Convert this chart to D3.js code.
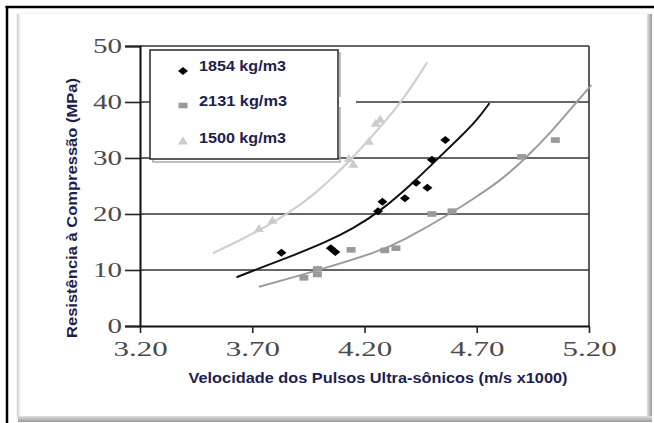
<!DOCTYPE html>
<html><head><meta charset="utf-8">
<script src="https://cdn.jsdelivr.net/npm/d3@7"></script>
<style>html,body{margin:0;padding:0;background:#fff;}svg{display:block;}</style>
</head><body>
<svg id="c" width="654" height="423"></svg>
<script>
// ---- data ----
const xTicks = [3.20, 3.70, 4.20, 4.70, 5.20];
const yTicks = [0, 10, 20, 30, 40, 50];
const seriesNames = ["1854 kg/m3", "2131 kg/m3", "1500 kg/m3"];
const pts1854 = [[3.83,13.1],[4.05,13.9],[4.07,13.2],[4.26,20.5],[4.28,22.2],[4.38,22.8],[4.43,25.6],[4.48,24.7],[4.50,29.7],[4.56,33.2]];
const pts2131 = [[3.93,8.6],[3.99,9.2],[3.99,10.2],[4.14,13.6],[4.29,13.5],[4.34,13.9],[4.50,20.0],[4.59,20.5],[4.90,30.2],[5.05,33.2]];
const pts1500 = [[3.73,17.4],[3.79,18.9],[4.13,29.9],[4.15,28.9],[4.22,33.0],[4.25,36.2],[4.27,36.9]];
const trend1854 = [[3.63,8.7],[3.73,10.3],[3.87,12.4],[4.03,15.0],[4.15,17.4],[4.27,20.5],[4.41,25.3],[4.55,30.8],[4.62,33.5],[4.70,36.7],[4.757,39.8]];
const trend2131 = [[3.73,7.0],[4.00,10.0],[4.27,13.4],[4.36,15.0],[4.59,20.2],[4.71,23.4],[4.80,25.8],[4.92,30.0],[5.04,35.0],[5.16,40.7],[5.21,43.0]];
const trend1500 = [[3.525,13.0],[3.645,15.3],[3.76,17.7],[3.87,20.4],[3.96,23.0],[4.05,26.2],[4.14,29.7],[4.25,34.6],[4.37,40.2],[4.48,47.1]];
const xTitle = "Velocidade dos Pulsos Ultra-sônicos (m/s x1000)";
const yTitle = "Resistência à Compressão (MPa)";

const svg = d3.select("#c");
// ---- frame & panel ----
const defs = svg.append("defs");
const g1 = defs.append("linearGradient").attr("id","shR").attr("x1","0").attr("x2","1");
g1.append("stop").attr("offset","0").attr("stop-color","#e0e0e0");
g1.append("stop").attr("offset","1").attr("stop-color","#9a9a9a");
const g2 = defs.append("linearGradient").attr("id","shB").attr("x1","0").attr("x2","0").attr("y1","0").attr("y2","1");
g2.append("stop").attr("offset","0").attr("stop-color","#e0e0e0");
g2.append("stop").attr("offset","1").attr("stop-color","#9a9a9a");
const g3 = defs.append("linearGradient").attr("id","shL").attr("x1","0").attr("x2","1");
g3.append("stop").attr("offset","0").attr("stop-color","#cfcfcf");
g3.append("stop").attr("offset","1").attr("stop-color","#ffffff");

svg.append("rect").attr("x",17).attr("y",13).attr("width",632).attr("height",405).attr("fill","#fff").attr("stroke","#f0f0f0").attr("stroke-width",1);
svg.append("rect").attr("x",17).attr("y",14).attr("width",4).attr("height",404).attr("fill","url(#shL)");
svg.append("rect").attr("x",647).attr("y",14).attr("width",5).attr("height",408).attr("fill","url(#shR)");
svg.append("rect").attr("x",18).attr("y",416).attr("width",634).attr("height",6).attr("fill","url(#shB)");
svg.append("line").attr("x1",5.5).attr("x2",654).attr("y1",7).attr("y2",7).attr("stroke","#000").attr("stroke-width",2.5);
svg.append("line").attr("x1",7).attr("x2",7).attr("y1",6).attr("y2",423).attr("stroke","#000").attr("stroke-width",2.5);

// ---- scales ----
const x = d3.scaleLinear().domain([3.2, 5.2]).range([140, 589]);
const y = d3.scaleLinear().domain([0, 50]).range([326, 46]);

// gridlines
svg.append("g").selectAll("line").data(yTicks.filter(d=>d>0)).join("line")
  .attr("x1", x(3.2)).attr("x2", x(5.2)).attr("y1", d=>y(d)).attr("y2", d=>y(d))
  .attr("stroke", "#333").attr("stroke-width", 1.6);
// right border
svg.append("line").attr("x1",x(5.2)).attr("x2",x(5.2)).attr("y1",y(50)).attr("y2",y(0)).attr("stroke","#333").attr("stroke-width",1.6);

// axes
function stretch(sel, factor){
  sel.each(function(){ const w=this.getComputedTextLength(); d3.select(this).attr("textLength", w*factor).attr("lengthAdjust","spacingAndGlyphs"); });
}
const yAx = svg.append("g").attr("transform",`translate(${x(3.2)},0)`)
  .call(d3.axisLeft(y).tickValues(yTicks).tickSize(15).tickPadding(3).tickFormat(d3.format("d")));
yAx.select(".domain").attr("stroke","#111").attr("stroke-width",2);
yAx.selectAll(".tick line").attr("stroke","#222").attr("stroke-width",1.6);
yAx.selectAll(".tick text").attr("font-family","'Liberation Serif', 'Times New Roman', serif").attr("font-size",20).attr("fill","#4a4a4a").attr("dy","0.34em").call(stretch,1.45);

const xAx = svg.append("g").attr("transform",`translate(0,${y(0)})`)
  .call(d3.axisBottom(x).tickValues(xTicks).tickSize(7).tickSizeOuter(0).tickPadding(9).tickFormat(d3.format(".2f")));
xAx.select(".domain").attr("stroke","#111").attr("stroke-width",2);
xAx.selectAll(".tick line").attr("stroke","#222").attr("stroke-width",1.6);
xAx.selectAll(".tick text").attr("font-family","'Liberation Serif', 'Times New Roman', serif").attr("font-size",20).attr("fill","#4a4a4a").call(stretch,1.55);

// ---- legend box ----
svg.append("rect").attr("x",153).attr("y",53).attr("width",187).attr("height",109).attr("fill","none").attr("stroke","#aaa").attr("stroke-width",1.5);
svg.append("rect").attr("x",150).attr("y",50).attr("width",188).attr("height",109).attr("fill","#fff").attr("stroke","#333").attr("stroke-width",1.6);
svg.append("rect").attr("x",339).attr("y",97).attr("width",17).attr("height",10).attr("fill","#fff");

// ---- trend lines ----
const line = d3.line().x(d=>x(d[0])).y(d=>y(d[1])).curve(d3.curveBasis);
svg.append("path").datum(trend1500).attr("d",line).attr("fill","none").attr("stroke","#cfcfcf").attr("stroke-width",2.2);
svg.append("path").datum(trend2131).attr("d",line).attr("fill","none").attr("stroke","#9c9c9c").attr("stroke-width",2);
svg.append("path").datum(trend1854).attr("d",line).attr("fill","none").attr("stroke","#111").attr("stroke-width",2);

// ---- markers ----
const diamond = "M0,-4L5,0L0,4L-5,0Z";
const square = "M-4.5,-2.8h9v5.6h-9Z";
const tri = "M0,-4.5L5,3.5L-5,3.5Z";
function marks(data, path, color){
  svg.append("g").selectAll("path").data(data).join("path")
    .attr("d", path).attr("fill", color)
    .attr("transform", d=>`translate(${x(d[0])},${y(d[1])})`);
}
marks(pts1500, tri, "#cccccc");
marks(pts2131, square, "#9a9a9a");
marks(pts1854, diamond, "#000");

// ---- legend entries ----
const legY = [71, 105.5, 141];
const legShapes = [diamond, square, tri];
const legColors = ["#000", "#9a9a9a", "#cccccc"];
const legW = [87, 88, 87];
seriesNames.forEach((n,i)=>{
  svg.append("path").attr("d", legShapes[i]).attr("fill", legColors[i]).attr("transform", `translate(183,${legY[i]})`);
  svg.append("text").attr("x",199).attr("y",legY[i]+ (i===2?2:0)).text(n)
    .attr("font-family","Arial, 'Liberation Sans', sans-serif").attr("font-weight","bold").attr("font-size",14.5)
    .attr("fill","#1e1e50").attr("textLength",legW[i]).attr("lengthAdjust","spacingAndGlyphs");
});

// ---- titles ----
svg.append("text").attr("x",378).attr("y",383).attr("text-anchor","middle").text(xTitle)
  .attr("font-family","Arial, 'Liberation Sans', sans-serif").attr("font-weight","bold").attr("font-size",14.5)
  .attr("fill","#1e1e50").attr("textLength",379).attr("lengthAdjust","spacingAndGlyphs");
svg.append("text").attr("transform","translate(77,208) rotate(-90)").attr("text-anchor","middle").text(yTitle)
  .attr("font-family","Arial, 'Liberation Sans', sans-serif").attr("font-weight","bold").attr("font-size",14)
  .attr("fill","#1e1e50").attr("textLength",260).attr("lengthAdjust","spacingAndGlyphs");
</script>
</body></html>
